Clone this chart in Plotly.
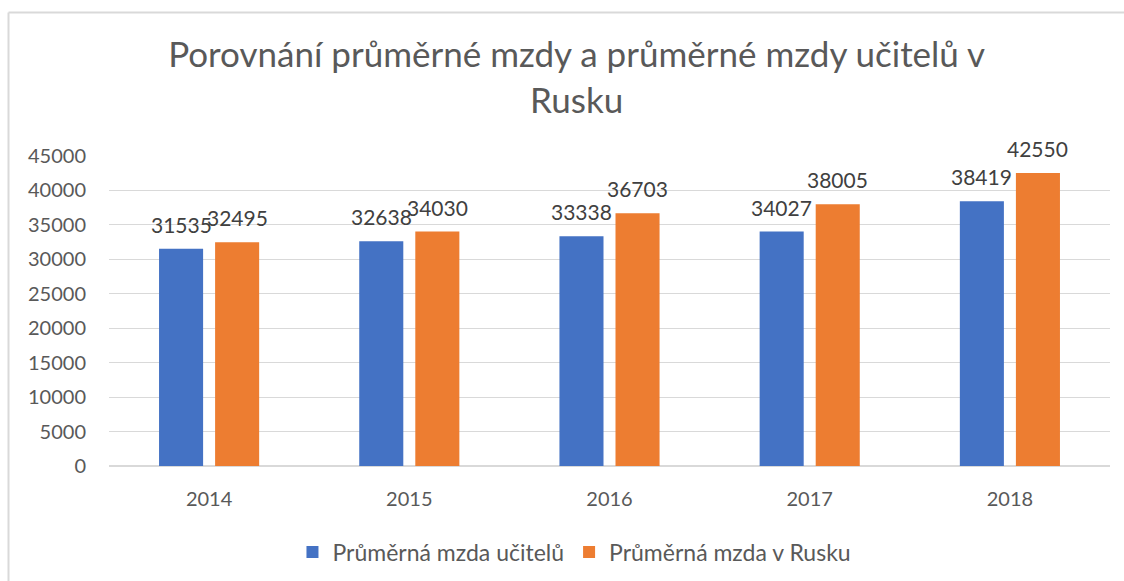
import plotly.graph_objects as go

years = ["2014", "2015", "2016", "2017", "2018"]
teachers = [31535, 32638, 33338, 34027, 38419]
russia = [32495, 34030, 36703, 38005, 42550]
series_names = ["Průměrná mzda učitelů", "Průměrná mzda v Rusku"]
colors = ["#4472C4", "#ED7D31"]
y_ticks = [0, 5000, 10000, 15000, 20000, 25000, 30000, 35000, 40000, 45000]

FONT = "Lato"

fig = go.Figure()
for name, vals, col in zip(series_names, [teachers, russia], colors):
    fig.add_trace(go.Bar(
        x=years, y=vals, name=name, marker=dict(color=col, line=dict(width=0)),
    ))

# data labels (x given as category index)
for vals, shift in zip([teachers, russia], [-28, 28]):
    for i, v in enumerate(vals):
        fig.add_annotation(x=i, y=v, text=str(v), showarrow=False,
                           xshift=shift, yshift=10, yanchor="bottom",
                           font=dict(family=FONT, size=21, color="#404040"))

fig.update_layout(
    width=1124, height=581,
    margin=dict(l=109, r=14, t=156, b=115, autoexpand=False),
    paper_bgcolor="white", plot_bgcolor="white",
    barmode="group", bargap=0.44, bargroupgap=0.214,
    title=dict(
        text="Porovnání průměrné mzdy a průměrné mzdy učitelů v<br>Rusku",
        x=0.513, xanchor="center", y=0.884, yanchor="top",
        font=dict(family=FONT, size=35, color="#595959"),
    ),
    font=dict(family=FONT, color="#595959"),
    legend=dict(
        orientation="h", x=0.465, xanchor="center", y=-0.208, yanchor="top",
        font=dict(family=FONT, size=23, color="#595959"),
        itemwidth=30, traceorder="normal",
    ),
)
fig.update_yaxes(
    range=[0, 45000], tickvals=y_ticks, ticktext=[str(t) for t in y_ticks],
    showgrid=True, gridcolor="#D9D9D9", gridwidth=1,
    zeroline=True, zerolinecolor="#D9D9D9", zerolinewidth=1.5,
    tickfont=dict(family=FONT, size=20, color="#595959"),
    ticks="", ticklabelstandoff=22, showline=False,
)
fig.update_xaxes(
    type="category", categoryorder="array", categoryarray=years,
    range=[-0.5, len(years) - 0.5],
    tickfont=dict(family=FONT, size=20, color="#595959"),
    ticks="", showline=False, ticklabelstandoff=19,
)
# chart area border (top & left visible)
top = 1 + (156 - 12.5) / 310
left = (8.5 - 109) / 1001
fig.add_shape(type="line", xref="paper", yref="paper",
              x0=left, x1=1.2, y0=top, y1=top,
              line=dict(color="#D9D9D9", width=2))
fig.add_shape(type="line", xref="paper", yref="paper",
              x0=left, x1=left, y0=top, y1=-1,
              line=dict(color="#D9D9D9", width=2))

fig.write_html("out.html")
